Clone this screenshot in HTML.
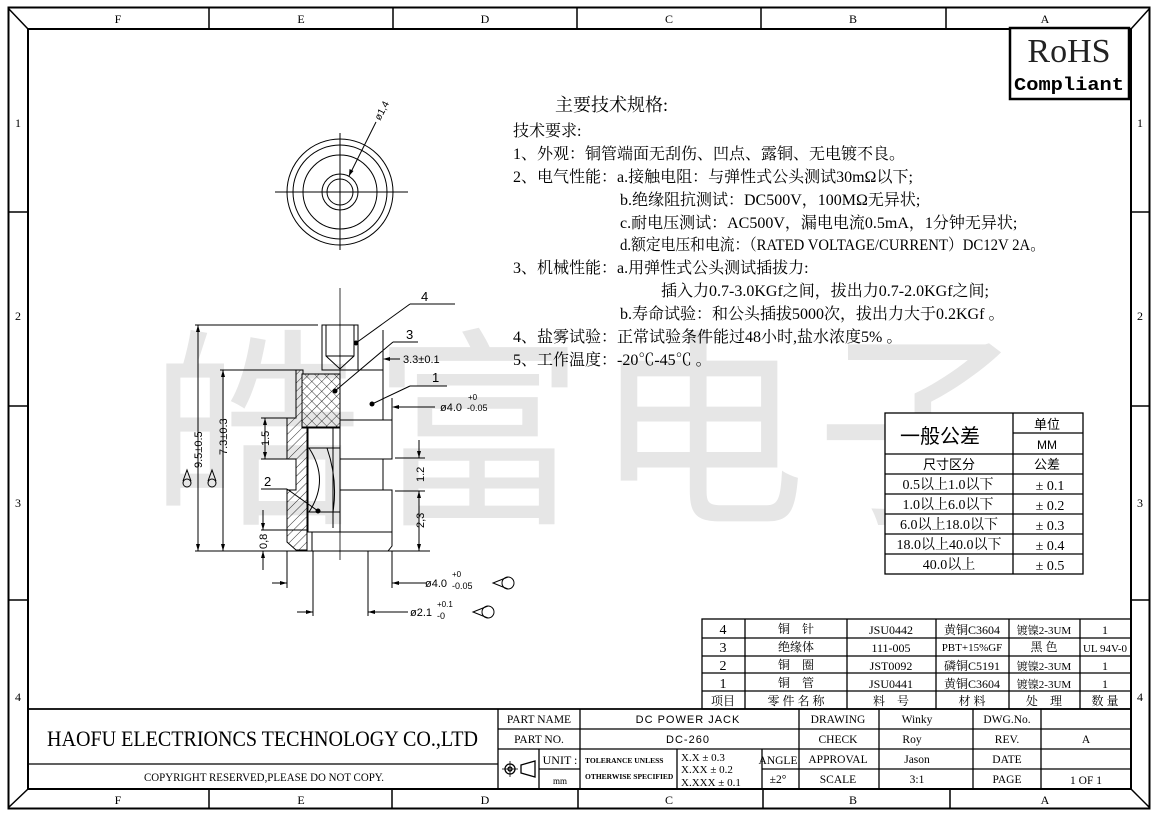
<!DOCTYPE html>
<html><head><meta charset="utf-8"><style>
html,body{margin:0;padding:0;background:#fff;}
svg{display:block;}
.s{font-family:"Liberation Serif","Noto Serif CJK SC",serif;}
.a{font-family:"Liberation Sans","Noto Sans CJK SC",sans-serif;}
</style></head><body>
<svg width="1157" height="819" viewBox="0 0 1157 819" xmlns="http://www.w3.org/2000/svg">
<defs>
<pattern id="h" width="6" height="6" patternUnits="userSpaceOnUse" patternTransform="rotate(45)"><line x1="0" y1="0" x2="0" y2="6" stroke="#000" stroke-width="0.8"/></pattern>
<pattern id="x" width="7" height="7" patternUnits="userSpaceOnUse" patternTransform="rotate(45)"><path d="M0 0V7M0 0H7" stroke="#000" stroke-width="0.8" fill="none"/></pattern>
</defs>
<rect width="1157" height="819" fill="#fff"/>
<text x="150" y="508" class="a" font-size="212" fill="#e6e6e6" letter-spacing="10">皓富电子</text>

<g stroke="#000" fill="none">
<rect x="8.5" y="7.5" width="1141" height="801" stroke-width="2"/>
<rect x="28" y="29" width="1103" height="760" stroke-width="2"/>
<line x1="8" y1="8" x2="28" y2="29" stroke-width="1.5"/>
<line x1="1150" y1="8" x2="1131" y2="29" stroke-width="1.5"/>
<line x1="8" y1="808" x2="28" y2="789" stroke-width="1.5"/>
<line x1="1150" y1="808" x2="1131" y2="789" stroke-width="1.5"/>
<g stroke-width="1.5">
<line x1="209" y1="8" x2="209" y2="29"/><line x1="393" y1="8" x2="393" y2="29"/><line x1="577" y1="8" x2="577" y2="29"/><line x1="761" y1="8" x2="761" y2="29"/><line x1="946" y1="8" x2="946" y2="29"/>
<line x1="209" y1="789" x2="209" y2="808"/><line x1="392" y1="789" x2="392" y2="808"/><line x1="578" y1="789" x2="578" y2="808"/><line x1="763" y1="789" x2="763" y2="808"/><line x1="950" y1="789" x2="950" y2="808"/>
<line x1="8" y1="212" x2="28" y2="212"/><line x1="8" y1="406" x2="28" y2="406"/><line x1="8" y1="600" x2="28" y2="600"/>
<line x1="1131" y1="212" x2="1150" y2="212"/><line x1="1131" y1="406" x2="1150" y2="406"/><line x1="1131" y1="600" x2="1150" y2="600"/>
</g>
</g>
<g class="s" font-size="12" text-anchor="middle" fill="#000">
<text x="118" y="23">F</text><text x="301" y="23">E</text><text x="485" y="23">D</text><text x="669" y="23">C</text><text x="853" y="23">B</text><text x="1045" y="23">A</text>
<text x="118" y="804">F</text><text x="301" y="804">E</text><text x="485" y="804">D</text><text x="669" y="804">C</text><text x="853" y="804">B</text><text x="1045" y="804">A</text>
<text x="18" y="127">1</text><text x="18" y="320">2</text><text x="18" y="507">3</text><text x="18" y="701">4</text>
<text x="1140" y="127">1</text><text x="1140" y="320">2</text><text x="1140" y="507">3</text><text x="1140" y="701">4</text>
</g>

<rect x="1010" y="28" width="119" height="71" fill="#fff" stroke="#000" stroke-width="2.5"/>
<text x="1069" y="62" class="s" font-size="34" text-anchor="middle" fill="#222">RoHS</text>
<text x="1069" y="90" font-family="Liberation Mono, monospace" font-weight="bold" font-size="18" text-anchor="middle" textLength="110" lengthAdjust="spacingAndGlyphs">Compliant</text>

<g stroke="#000" fill="none" stroke-width="1">
<circle cx="340" cy="192" r="53"/><circle cx="340" cy="192" r="47"/><circle cx="340" cy="192" r="37"/><circle cx="340" cy="192" r="18"/><circle cx="340" cy="192" r="13"/>
<line x1="275" y1="192" x2="408" y2="192"/><line x1="340" y1="133" x2="340" y2="250"/>
<line x1="349" y1="176" x2="376" y2="122"/>
</g>
<path d="M349 176 l0.5 -7 l4 2 z" fill="#000"/>
<text x="0" y="0" class="a" font-size="10" transform="translate(380,121) rotate(-62)">ø1,4</text>

<g stroke="#000" stroke-width="1" fill="none">
<line x1="340" y1="288" x2="340" y2="560" stroke-width="0.8"/>
<rect x="322" y="325" width="36" height="45"/>
<path d="M326 325V356L340 369L354 356V325"/>
<line x1="326" y1="356" x2="354" y2="356"/>
<path d="M296 370H303V374H302V428H307V550H296L287 542V490H296V459H287V418H296Z" fill="url(#h)"/>
<rect x="302" y="374" width="38" height="53" fill="url(#x)"/>
<path d="M340 370H383V420H392V459H383V490H392V546L388 551H312"/>
<line x1="340" y1="420" x2="383" y2="420"/>
<line x1="340" y1="459" x2="392" y2="459"/>
<line x1="340" y1="490" x2="392" y2="490"/>
<rect x="308" y="428" width="32" height="104"/>
<path d="M333 428V528"/>
<line x1="308" y1="448" x2="340" y2="448"/>
<line x1="308" y1="512" x2="340" y2="512"/>
<path d="M309 448Q330 480 309 512"/>
<path d="M327 448Q338 480 333 512"/>
<line x1="312" y1="532" x2="392" y2="532"/>
<line x1="312" y1="532" x2="312" y2="551"/>
<line x1="195" y1="551" x2="430" y2="551"/>
<line x1="195" y1="325" x2="318" y2="325"/>
<line x1="220" y1="370" x2="297" y2="370"/>
<line x1="198" y1="325" x2="198" y2="551"/>
<line x1="223" y1="370" x2="223" y2="551"/>
<line x1="261" y1="418" x2="287" y2="418"/><line x1="261" y1="459" x2="287" y2="459"/>
<line x1="265" y1="418" x2="265" y2="459"/>
<line x1="261" y1="530" x2="308" y2="530"/>
<line x1="263" y1="510" x2="263" y2="530"/><line x1="263" y1="551" x2="263" y2="570"/>
<line x1="395" y1="458" x2="425" y2="458"/><line x1="395" y1="491" x2="425" y2="491"/>
<line x1="419" y1="440" x2="419" y2="458"/><line x1="419" y1="491" x2="419" y2="551"/>
<line x1="383" y1="330" x2="383" y2="370"/>
<line x1="385" y1="359" x2="400" y2="359"/>
<line x1="392" y1="398" x2="392" y2="420"/>
<line x1="394" y1="407" x2="435" y2="407"/>
<line x1="287" y1="551" x2="287" y2="588"/>
<line x1="392" y1="551" x2="392" y2="588"/>
<line x1="313" y1="551" x2="313" y2="616"/>
<line x1="368" y1="551" x2="368" y2="616"/>
<line x1="272" y1="583" x2="287" y2="583"/><line x1="392" y1="583" x2="426" y2="583"/>
<line x1="297" y1="612" x2="313" y2="612"/><line x1="368" y1="612" x2="408" y2="612"/>
<line x1="410" y1="304" x2="455" y2="304"/><line x1="410" y1="304" x2="356" y2="343"/>
<line x1="393" y1="342" x2="418" y2="342"/><line x1="393" y1="342" x2="335" y2="391"/>
<line x1="410" y1="386" x2="447" y2="386"/><line x1="410" y1="386" x2="372" y2="404"/>
<line x1="261" y1="489" x2="287" y2="489"/><line x1="287" y1="489" x2="318" y2="511"/>
<path d="M508 577 L493 583 L508 589"/><circle cx="508" cy="583" r="6"/>
<path d="M488 606 L473 612 L488 618"/><circle cx="488" cy="612" r="6"/>
<path d="M191 481 L187 470 L183 481"/><circle cx="187" cy="483" r="4"/>
<path d="M216 481 L212 470 L208 481"/><circle cx="212" cy="483" r="4"/>
</g>
<g fill="#000">
<circle cx="356" cy="343" r="2.5"/><circle cx="335" cy="391" r="2.5"/><circle cx="372" cy="404" r="2.5"/><circle cx="318" cy="511" r="2.5"/>
<path d="M198 325l-2 7h4z"/><path d="M198 551l-2 -7h4z"/>
<path d="M223 370l-2 7h4z"/><path d="M223 551l-2 -7h4z"/>
<path d="M265 418l-2 7h4z"/><path d="M265 459l-2 -7h4z"/>
<path d="M263 530l-2 -7h4z"/><path d="M263 551l-2 7h4z"/>
<path d="M419 458l-2 -7h4z"/><path d="M419 491l-2 7h4z"/><path d="M419 551l-2 -7h4z"/>
<path d="M383 359l7 -2v4z"/><path d="M392 407l7 -2v4z"/>
<path d="M287 583l-7 -2v4z"/><path d="M392 583l7 -2v4z"/>
<path d="M313 612l-7 -2v4z"/><path d="M368 612l7 -2v4z"/>
</g>
<g class="a" font-size="11" fill="#000">
<text x="421" y="301" font-size="13">4</text>
<text x="406" y="339" font-size="13">3</text>
<text x="432" y="382" font-size="13">1</text>
<text x="264" y="486" font-size="13">2</text>
<text x="403" y="363">3.3±0.1</text>
<text x="468" y="400" font-size="8">+0</text>
<text x="440" y="411">ø4.0</text><text x="467" y="411" font-size="9">-0.05</text>
<text x="452" y="577" font-size="8">+0</text>
<text x="425" y="587">ø4.0</text><text x="452" y="589" font-size="9">-0.05</text>
<text x="437" y="607" font-size="8">+0.1</text>
<text x="410" y="616">ø2.1</text><text x="437" y="619" font-size="9">-0</text>
<text transform="translate(202,468) rotate(-90)">9.5±0.5</text>
<text transform="translate(227,455) rotate(-90)">7.3±0.3</text>
<text transform="translate(269,446) rotate(-90)">1.5</text>
<text transform="translate(267,549) rotate(-90)">0,8</text>
<text transform="translate(424,482) rotate(-90)">1.2</text>
<text transform="translate(424,528) rotate(-90)">2,3</text>
</g>

<g class="s" font-size="16" fill="#000">
<text x="555" y="111" font-size="18">主要技术规格:</text>
<text x="513" y="136">技术要求:</text>
<text x="513" y="159">1、外观：铜管端面无刮伤、凹点、露铜、无电镀不良。</text>
<text x="513" y="182">2、电气性能：a.接触电阻：与弹性式公头测试30mΩ以下;</text>
<text x="620" y="205">b.绝缘阻抗测试：DC500V，100MΩ无异状;</text>
<text x="620" y="228">c.耐电压测试：AC500V，漏电电流0.5mA，1分钟无异状;</text>
<text x="620" y="250" textLength="425" lengthAdjust="spacingAndGlyphs">d.额定电压和电流：（RATED VOLTAGE/CURRENT）DC12V 2A。</text>
<text x="513" y="273">3、机械性能：a.用弹性式公头测试插拔力:</text>
<text x="661" y="296">插入力0.7-3.0KGf之间，拔出力0.7-2.0KGf之间;</text>
<text x="620" y="319">b.寿命试验：和公头插拔5000次，拔出力大于0.2KGf 。</text>
<text x="513" y="342">4、盐雾试验：正常试验条件能过48小时,盐水浓度5% 。</text>
<text x="513" y="365">5、工作温度：-20℃-45℃ 。</text>
</g>

<g stroke="#000" stroke-width="1.3" fill="none">
<rect x="885" y="413" width="198" height="161" fill="#fff"/>
<line x1="1013" y1="413" x2="1013" y2="574"/>
<line x1="1013" y1="433" x2="1083" y2="433"/>
<line x1="885" y1="454" x2="1083" y2="454"/>
<line x1="885" y1="474" x2="1083" y2="474"/>
<line x1="885" y1="494" x2="1083" y2="494"/>
<line x1="885" y1="514" x2="1083" y2="514"/>
<line x1="885" y1="534" x2="1083" y2="534"/>
<line x1="885" y1="554" x2="1083" y2="554"/>
</g>
<g class="s" font-size="14" fill="#000" text-anchor="middle">
<text x="940" y="443" font-size="20" class="a">一般公差</text>
<text x="1047" y="429" class="a" font-size="13">单位</text>
<text x="1047" y="449" class="a" font-size="12">MM</text>
<text x="949" y="469" class="a" font-size="13">尺寸区分</text>
<text x="1047" y="469" class="a" font-size="13">公差</text>
<text x="948" y="489">0.5以上1.0以下</text><text x="1050" y="490">± 0.1</text>
<text x="948" y="509">1.0以上6.0以下</text><text x="1050" y="510">± 0.2</text>
<text x="949" y="529">6.0以上18.0以下</text><text x="1050" y="530">± 0.3</text>
<text x="949" y="549">18.0以上40.0以下</text><text x="1050" y="550">± 0.4</text>
<text x="949" y="569">40.0以上</text><text x="1050" y="570">± 0.5</text>
</g>

<g stroke="#000" stroke-width="1.3" fill="none">
<rect x="702" y="619" width="429" height="90"/>
<line x1="702" y1="638" x2="1131" y2="638"/><line x1="702" y1="656" x2="1131" y2="656"/><line x1="702" y1="673" x2="1131" y2="673"/><line x1="702" y1="691" x2="1131" y2="691"/>
<line x1="745" y1="619" x2="745" y2="709"/><line x1="847" y1="619" x2="847" y2="709"/><line x1="936" y1="619" x2="936" y2="709"/><line x1="1009" y1="619" x2="1009" y2="709"/><line x1="1080" y1="619" x2="1080" y2="709"/>
</g>
<g class="s" font-size="12" fill="#000" text-anchor="middle">
<text x="723" y="634" font-size="14">4</text><text x="796" y="633">铜　针</text><text x="891" y="634">JSU0442</text><text x="972" y="634">黄铜C3604</text><text x="1044" y="634" font-size="11">镀镍2-3UM</text><text x="1105" y="634">1</text>
<text x="723" y="652" font-size="14">3</text><text x="796" y="651">绝缘体</text><text x="891" y="652">111-005</text><text x="972" y="651" font-size="11">PBT+15%GF</text><text x="1044" y="651">黑 色</text><text x="1105" y="652" font-size="11">UL 94V-0</text>
<text x="723" y="670" font-size="14">2</text><text x="796" y="669">铜　圈</text><text x="891" y="670">JST0092</text><text x="972" y="670">磷铜C5191</text><text x="1044" y="670" font-size="11">镀镍2-3UM</text><text x="1105" y="670">1</text>
<text x="723" y="688" font-size="14">1</text><text x="796" y="687">铜　管</text><text x="891" y="688">JSU0441</text><text x="972" y="688">黄铜C3604</text><text x="1044" y="688" font-size="11">镀镍2-3UM</text><text x="1105" y="688">1</text>
<text x="723" y="705">项目</text><text x="796" y="705">零 件 名 称</text><text x="891" y="705">料　号</text><text x="972" y="705">材 料</text><text x="1044" y="705">处　理</text><text x="1105" y="705">数 量</text>
</g>

<g stroke="#000" stroke-width="1.3" fill="none">
<line x1="28" y1="709" x2="1131" y2="709" stroke-width="1.8"/>
<line x1="28" y1="764" x2="498" y2="764"/>
<line x1="498" y1="709" x2="498" y2="789"/>
<line x1="498" y1="729" x2="1131" y2="729"/>
<line x1="498" y1="749" x2="1131" y2="749"/>
<line x1="762" y1="769" x2="1131" y2="769"/>
<line x1="539" y1="769" x2="580" y2="769"/>
<line x1="580" y1="709" x2="580" y2="749"/>
<line x1="539" y1="749" x2="539" y2="789"/>
<line x1="580" y1="749" x2="580" y2="789"/>
<line x1="677" y1="749" x2="677" y2="789"/>
<line x1="762" y1="749" x2="762" y2="789"/>
<line x1="799" y1="709" x2="799" y2="789"/>
<line x1="879" y1="709" x2="879" y2="789"/>
<line x1="973" y1="709" x2="973" y2="789"/>
<line x1="1041" y1="709" x2="1041" y2="789"/>
<circle cx="510" cy="769" r="5"/><circle cx="510" cy="769" r="2"/>
<line x1="502" y1="769" x2="518" y2="769" stroke-width="0.8"/><line x1="510" y1="761" x2="510" y2="777" stroke-width="0.8"/>
<path d="M521 765L535 761V777L521 773Z"/>
</g>
<g class="s" fill="#000">
<text x="47" y="746" font-size="22" textLength="431" lengthAdjust="spacingAndGlyphs">HAOFU ELECTRIONCS TECHNOLOGY CO.,LTD</text>
<text x="264" y="781" font-size="12" text-anchor="middle" textLength="240" lengthAdjust="spacingAndGlyphs">COPYRIGHT RESERVED,PLEASE DO NOT COPY.</text>
<g font-size="11.5" text-anchor="middle">
<text x="539" y="723">PART NAME</text><text x="539" y="743">PART NO.</text>
<text x="560" y="764" font-size="12">UNIT :</text><text x="560" y="784" font-size="9">mm</text>
<text x="838" y="723">DRAWING</text><text x="838" y="743">CHECK</text><text x="838" y="763">APPROVAL</text><text x="838" y="783">SCALE</text>
<text x="917" y="723">Winky</text><text x="912" y="743">Roy</text><text x="917" y="763">Jason</text><text x="917" y="783">3:1</text>
<text x="1007" y="723">DWG.No.</text><text x="1007" y="743">REV.</text><text x="1007" y="763">DATE</text><text x="1007" y="783">PAGE</text>
<text x="1086" y="743">A</text><text x="1086" y="784">1 OF 1</text>
<text x="778" y="764">ANGLE</text><text x="778" y="783">±2°</text>
</g>
<text x="585" y="763" font-size="7.5" font-weight="bold">TOLERANCE UNLESS</text>
<text x="585" y="779" font-size="7.5" font-weight="bold">OTHERWISE SPECIFIED</text>
<text x="681" y="761" font-size="11">X.X ± 0.3</text>
<text x="681" y="773" font-size="11">X.XX ± 0.2</text>
<text x="681" y="786" font-size="11">X.XXX ± 0.1</text>
</g>
<g class="a" font-size="11" fill="#000" text-anchor="middle">
<text x="688" y="723" letter-spacing="1">DC POWER JACK</text>
<text x="688" y="743" letter-spacing="1">DC-260</text>
</g>
</svg>
</body></html>
